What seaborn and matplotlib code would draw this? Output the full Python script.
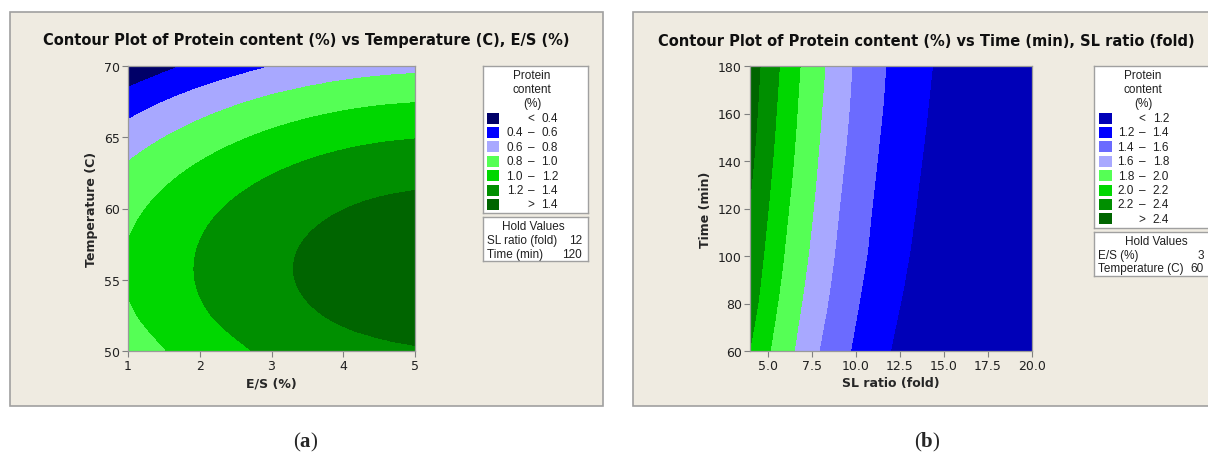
import numpy as np
import matplotlib
matplotlib.use("Agg")
import matplotlib.pyplot as plt
import matplotlib.tri as mtri
from matplotlib.patches import Rectangle
from matplotlib.ticker import FormatStrFormatter
import seaborn as sns

# ---- panel (a): protein content vs E/S (%) and Temperature (C) ----
es_pct = [1, 1.5, 2, 2.5, 3, 3.5, 4, 4.5, 5]
temp_c = [50, 52.5, 55, 57.5, 60, 62.5, 65, 67.5, 70]
protein_a = [
    [0.886, 0.992, 1.086, 1.167, 1.236, 1.292, 1.336, 1.367, 1.386],
    [0.973, 1.079, 1.173, 1.254, 1.323, 1.379, 1.423, 1.454, 1.473],
    [1.012, 1.118, 1.212, 1.293, 1.362, 1.418, 1.462, 1.493, 1.512],
    [1.003, 1.109, 1.203, 1.284, 1.353, 1.409, 1.453, 1.484, 1.503],
    [0.947, 1.053, 1.147, 1.228, 1.297, 1.353, 1.397, 1.428, 1.447],
    [0.843, 0.949, 1.043, 1.124, 1.193, 1.249, 1.293, 1.324, 1.343],
    [0.692, 0.798, 0.892, 0.973, 1.042, 1.098, 1.142, 1.173, 1.192],
    [0.494, 0.600, 0.694, 0.775, 0.844, 0.900, 0.944, 0.975, 0.994],
    [0.248, 0.354, 0.448, 0.529, 0.598, 0.654, 0.698, 0.729, 0.748],
]
levels_a = [0.4, 0.6, 0.8, 1.0, 1.2, 1.4]
colors_a = ["#000068", "#0000FF", "#A8A8FF", "#55FF55", "#00D700", "#008F00", "#006500"]
hold_a = [("SL ratio (fold)", "12"), ("Time (min)", "120")]

# ---- panel (b): protein content vs SL ratio (fold) and Time (min) ----
sl_ratio = [4, 5, 6, 7, 8, 9, 10, 11, 12, 14, 16, 18, 20]
time_min = [60, 90, 120, 150, 180]
protein_b = [
    [2.195, 2.023, 1.874, 1.730, 1.590, 1.476, 1.371, 1.284, 1.198, 1.06, 0.95, 0.86, 0.79],
    [2.320, 2.127, 1.961, 1.817, 1.678, 1.551, 1.440, 1.347, 1.265, 1.109, 1.00, 0.91, 0.84],
    [2.390, 2.206, 2.031, 1.884, 1.744, 1.608, 1.498, 1.392, 1.313, 1.157, 1.04, 0.95, 0.88],
    [2.461, 2.272, 2.093, 1.935, 1.793, 1.660, 1.541, 1.433, 1.347, 1.194, 1.07, 0.98, 0.91],
    [2.508, 2.321, 2.142, 1.976, 1.835, 1.701, 1.575, 1.469, 1.374, 1.224, 1.10, 1.01, 0.94],
]
levels_b = [1.2, 1.4, 1.6, 1.8, 2.0, 2.2, 2.4]
colors_b = ["#0000B8", "#0000FF", "#6B6BFF", "#A8A8FF", "#55FF55", "#00D700", "#008F00", "#006500"]
hold_b = [("E/S (%)", "3"), ("Temperature (C)", "60")]

sns.set_theme(style="white")
plt.rcParams["font.family"] = ["DejaVu Sans"]
plt.rcParams["mathtext.fontset"] = "custom"
plt.rcParams["mathtext.bf"] = "Liberation Serif:bold"
plt.rcParams["mathtext.rm"] = "Liberation Serif"

W, H = 1208, 456
fig = plt.figure(figsize=(W / 100, H / 100), dpi=100)
fig.patch.set_facecolor("white")
BG = "#EFEBE1"
EDGE = "#A0A0A0"
TXT = "#202020"
LEG_FONT = ["Liberation Sans", "DejaVu Sans"]


def px_rect(x0, y0, x1, y1):
    return [x0 / W, 1 - y1 / H, (x1 - x0) / W, (y1 - y0) / H]


# panel frames (behind the axes)
for x0, x1 in [(10, 603), (633, 1230)]:
    fig.patches.append(Rectangle((x0 / W, 1 - 407 / H), (x1 - x0) / W, 394 / H,
                                 transform=fig.transFigure, facecolor=BG,
                                 edgecolor=EDGE, linewidth=1.2, zorder=-5))


def contour_panel(rect, x, y, z, levels, colors):
    ax = fig.add_axes(rect)
    # scale axes to unit range so the cubic interpolator is not skewed
    xs, ys = np.asarray(x, float), np.asarray(y, float)
    gx, gy = np.meshgrid((xs - xs[0]) / (xs[-1] - xs[0]), (ys - ys[0]) / (ys[-1] - ys[0]))
    tri = mtri.Triangulation(gx.ravel(), gy.ravel())
    zz = np.asarray(z, float).ravel()
    interp = mtri.CubicTriInterpolator(tri, zz, kind="geom")
    tri_f, z_f = mtri.UniformTriRefiner(tri).refine_field(zz, triinterpolator=interp, subdiv=4)
    tri_f.x = xs[0] + tri_f.x * (xs[-1] - xs[0])
    tri_f.y = ys[0] + tri_f.y * (ys[-1] - ys[0])
    bounds = [-5] + levels + [9]
    ax.tricontourf(tri_f, z_f, levels=bounds, colors=sns.color_palette(colors))
    for s in ax.spines.values():
        s.set_color("#9A9A9A")
        s.set_linewidth(0.9)
    ax.tick_params(axis="both", which="both", direction="out", length=4, width=0.8,
                   color="#808080", labelsize=9, labelcolor=TXT, pad=2,
                   bottom=True, left=True)
    return ax


def box_axes(x0, y0, x1, y1, right_open):
    bx = fig.add_axes(px_rect(x0, y0, x1, y1))
    bx.set_xlim(0, x1 - x0)
    bx.set_ylim(y1 - y0, 0)
    bx.set_xticks([])
    bx.set_yticks([])
    bx.set_facecolor("white")
    for s in bx.spines.values():
        s.set_color(EDGE)
        s.set_linewidth(1.0)
    if right_open:
        bx.spines["right"].set_visible(False)
    return bx


def legend_boxes(x0, x1, top, levels, colors, hold, px0, hold_cx, val_right, right_open=False):
    n = len(colors)
    step = 14.4
    row0 = 52
    bottom = top + row0 + step * (n - 1) + 9
    lax = box_axes(x0, top, x1, bottom, right_open)
    kw = dict(va="center", fontsize=8.5, color=TXT, family=LEG_FONT)
    for i, t in enumerate(["Protein", "content", "(%)"]):
        lax.text(49, 9 + 13.8 * i, t, ha="center", **kw)
    for i, c in enumerate(colors):
        yy = row0 + step * i
        lax.add_patch(Rectangle((px0, yy - 5.5), 12.5, 11, facecolor=c, edgecolor="none"))
        if i == 0:
            lax.text(48, yy, "<", ha="center", **kw)
            lax.text(75, yy, f"{levels[0]:.1f}", ha="right", **kw)
        elif i == n - 1:
            lax.text(48, yy, ">", ha="center", **kw)
            lax.text(75, yy, f"{levels[-1]:.1f}", ha="right", **kw)
        else:
            lax.text(40, yy, f"{levels[i - 1]:.1f}", ha="right", **kw)
            lax.text(48.5, yy, "\u2013", ha="center", **kw)
            lax.text(75, yy, f"{levels[i]:.1f}", ha="right", **kw)

    htop = bottom + 4
    hbot = htop + 16 + 13.5 * len(hold) + 1
    hax = box_axes(x0, htop, x1, hbot, right_open)
    hax.text(hold_cx, 9, "Hold Values", ha="center", **kw)
    for i, (name, val) in enumerate(hold):
        yy = 23 + 13.5 * i
        hax.text(4, yy, name, ha="left", **kw)
        hax.text(val_right, yy, val, ha="right", **kw)


# ---- panel (a) ----
ax_a = contour_panel(px_rect(128, 67, 415, 352), es_pct, temp_c, protein_a, levels_a, colors_a)
ax_a.set_xlim(1, 5)
ax_a.set_ylim(50, 70)
ax_a.set_xticks([1, 2, 3, 4, 5])
ax_a.set_yticks([50, 55, 60, 65, 70])
ax_a.set_xlabel("E/S (%)", fontsize=9, fontweight="bold", labelpad=3)
ax_a.set_ylabel("Temperature (C)", fontsize=9, fontweight="bold", labelpad=4)
fig.text(306 / W, 1 - 41 / H, "Contour Plot of Protein content (%) vs Temperature (C), E/S (%)",
         ha="center", va="center", fontsize=10.5, fontweight="bold", color="#101010")
legend_boxes(483, 588, 67, levels_a, colors_a, hold_a, px0=3.5, hold_cx=50, val_right=99)

# ---- panel (b) ----
ax_b = contour_panel(px_rect(750, 67, 1032, 352), sl_ratio, time_min, protein_b, levels_b, colors_b)
ax_b.set_xlim(4, 20)
ax_b.set_ylim(60, 180)
ax_b.set_xticks([5, 7.5, 10, 12.5, 15, 17.5, 20])
ax_b.xaxis.set_major_formatter(FormatStrFormatter("%.1f"))
ax_b.set_yticks([60, 80, 100, 120, 140, 160, 180])
ax_b.set_xlabel("SL ratio (fold)", fontsize=9, fontweight="bold", labelpad=3)
ax_b.set_ylabel("Time (min)", fontsize=9, fontweight="bold", labelpad=4)
fig.text(926 / W, 1 - 41 / H, "Contour Plot of Protein content (%) vs Time (min), SL ratio (fold)",
         ha="center", va="center", fontsize=10.5, fontweight="bold", color="#101010")
legend_boxes(1094, 1210, 67, levels_b, colors_b, hold_b, px0=5, hold_cx=62, val_right=110,
             right_open=True)

# captions
fig.text(306 / W, 1 - 442 / H, r"($\mathbf{a}$)", ha="center", va="center",
         fontsize=15, family="Liberation Serif")
fig.text(927 / W, 1 - 442 / H, r"($\mathbf{b}$)", ha="center", va="center",
         fontsize=15, family="Liberation Serif")

fig.savefig("out.png", dpi=100, facecolor=fig.get_facecolor())
